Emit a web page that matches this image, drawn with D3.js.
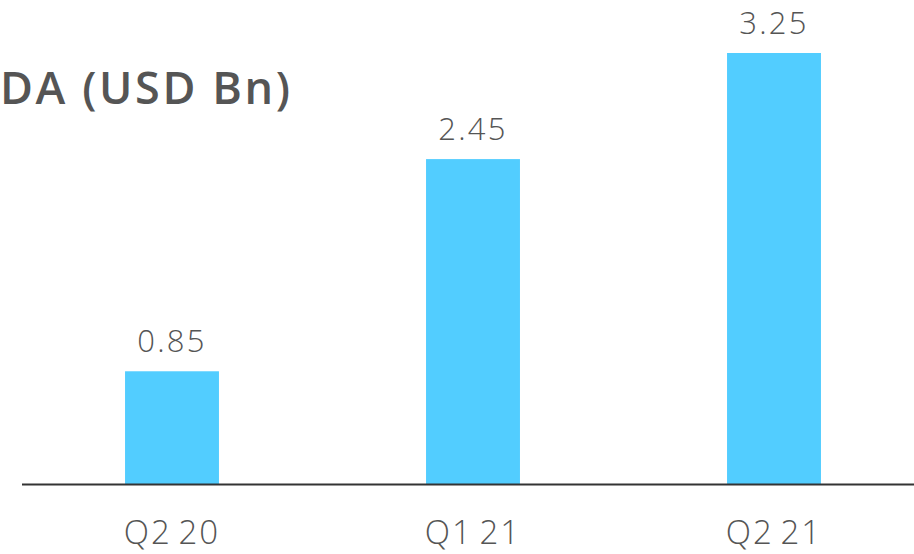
<!DOCTYPE html>
<html><head><meta charset="utf-8">
<script src="https://cdn.jsdelivr.net/npm/d3@7"></script>
<style>html,body{margin:0;padding:0;background:#fff;overflow:hidden}</style>
</head><body>
<svg id="c" width="914" height="554"></svg>
<script>
const categories = ["Q2 20", "Q1 21", "Q2 21"];
const values = [0.85, 2.45, 3.25];
const valueLabels = ["0.85", "2.45", "3.25"];
const title = "DA (USD Bn)";

const FONT = "'Open Sans', Lato, sans-serif";
const svg = d3.select("#c");
const baseY = 484;
const x = d3.scaleBand().domain(categories).range([21.5, 924.5]).paddingInner(0.688).paddingOuter(0.344);
const y = d3.scaleLinear().domain([0, 3.25]).range([baseY, 53]);

svg.selectAll("rect.bar").data(values).join("rect")
  .attr("class", "bar")
  .attr("x", (d, i) => x(categories[i]))
  .attr("width", x.bandwidth())
  .attr("y", d => y(d))
  .attr("height", d => baseY - y(d))
  .attr("fill", "#52CDFF");

svg.selectAll("text.val").data(values).join("text")
  .attr("class", "val")
  .attr("x", (d, i) => x(categories[i]) + x.bandwidth() / 2)
  .attr("y", d => y(d) - 19)
  .attr("text-anchor", "middle")
  .attr("font-family", FONT)
  .attr("font-weight", 300)
  .attr("font-size", 31)
  .attr("letter-spacing", 2.2)
  .attr("fill", "#555")
  .text((d, i) => valueLabels[i]);

const axis = d3.axisBottom(x).tickSize(0).tickPadding(0);
const g = svg.append("g").attr("transform", `translate(0,${baseY})`).call(axis);
g.select(".domain").remove();
g.selectAll("text")
  .attr("y", 60)
  .attr("dy", 0)
  .attr("font-family", FONT)
  .attr("font-weight", 300)
  .attr("font-size", 33)
  .attr("letter-spacing", 2)
  .attr("word-spacing", -4)
  .attr("fill", "#555");

svg.append("line")
  .attr("x1", 22).attr("x2", 914)
  .attr("y1", baseY + 0.5).attr("y2", baseY + 0.5)
  .attr("stroke", "#333").attr("stroke-width", 2);

svg.append("text")
  .attr("x", 0).attr("y", 104)
  .attr("text-anchor", "start")
  .attr("font-family", FONT)
  .attr("font-weight", 600)
  .attr("font-size", 45)
  .attr("letter-spacing", 2.6)
  .attr("fill", "#555")
  .text(title);
</script>
</body></html>
